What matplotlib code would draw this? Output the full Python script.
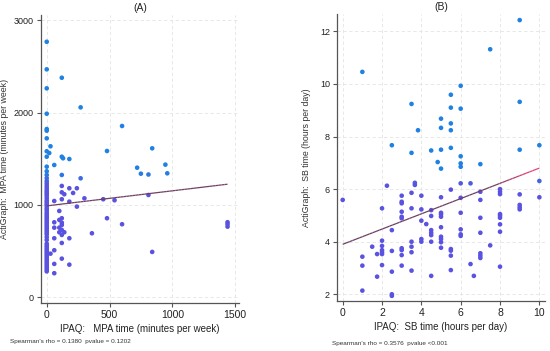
import numpy as np
import matplotlib
matplotlib.use("Agg")
import matplotlib.pyplot as plt
from matplotlib.collections import LineCollection
from matplotlib.colors import to_rgb

plt.rcParams['font.family'] = ['Liberation Sans', 'DejaVu Sans']

# ---------------- Panel A data ----------------
a_x0_y = [2769, 2470, 2264, 1989, 1823, 1805, 1722, 1582, 1523, 1415, 1365, 1325,
          1290, 1260, 1235, 1210, 1185, 1160, 1140, 1120, 1100, 1075, 1050, 1030,
          1010, 990, 965, 945, 920, 900, 880, 860, 840, 820, 800, 780, 760, 740,
          720, 700, 680, 650, 620, 580, 560, 540, 520, 500, 480, 460, 440, 420,
          400, 380, 360, 340, 320, 300, 280]
a_other_x = [30, 20, 120, 130, 180, 60, 120, 270, 120, 180, 240, 120, 140, 210, 300,
             60, 120, 180, 240, 100, 120, 100, 120, 120, 60, 60, 100, 120, 100, 140,
             120, 60, 180, 120, 60, 30, 120, 60, 180, 60,
             120, 270, 600, 480, 720, 750, 810, 840, 945, 960, 450, 540, 810, 480,
             600, 360, 840, 1440, 1440, 1440]
a_other_y = [1636, 1563, 1523, 1506, 1498, 1433, 1325, 1289, 1206, 1181, 1181, 1137,
             1116, 1130, 1072, 1043, 1062, 1036, 982, 935, 856, 838, 808, 783, 812,
             754, 754, 729, 704, 704, 675, 639, 639, 588, 509, 472, 418, 361, 353, 260,
             2379, 2058, 1856, 1585, 1404, 1339, 1330, 1614, 1437, 1343, 1062, 1051,
             1108, 856, 791, 693, 491, 813, 791, 765]
a_x = [0] * len(a_x0_y) + a_other_x
a_y = a_x0_y + a_other_y
a_fit_x = [0, 1440]
a_fit_y = [990, 1225]
a_xticks = [0, 500, 1000, 1500]
a_yticks = [0, 1000, 2000, 3000]

# ---------------- Panel B data ----------------
b_x = [1.0, 9, 7.5, 6, 5.5, 5.5, 6, 9, 3.5, 5, 5, 5.5, 5.5, 3.83, 2.5, 3.5, 4.5, 5,
       5.5, 9, 10, 6, 4.83, 6, 6, 7, 5,
       0, 2.25, 3.67, 3.67, 5.5, 6, 6.5, 7, 8, 8, 8, 10, 10, 9, 9, 9, 9,
       3, 3, 3, 3.5, 4, 2, 3.5, 4, 3, 3, 3, 4.5, 5, 5, 5, 5, 4.5, 4, 4.25, 2.5,
       4.5, 4.5, 4.5, 5, 5, 5, 5, 4, 4, 4.5, 6, 6, 6, 6, 6, 7, 7, 7, 8, 8, 8, 8,
       8, 7.5, 7, 7, 7, 6.5, 6.67, 8, 5.5, 5.5, 5.5, 5.5, 5, 4.5,
       2, 2, 2, 2, 2, 1.5, 1.75, 2.5, 1, 1, 2, 1.75, 2.5, 1, 2.5, 2.5, 3, 3, 3,
       3.5, 3.5, 3.5, 3, 3.5]
b_y = [10.46, 12.43, 11.32, 9.93, 9.59, 9.10, 9.06, 9.32, 9.24, 8.68, 8.33, 8.50,
       8.24, 8.24, 7.67, 7.38, 7.47, 7.50, 7.57, 7.50, 7.67, 7.25, 7.03, 6.98, 6.85,
       6.95, 6.78,
       5.59, 6.13, 6.24, 6.16, 5.98, 6.22, 6.22, 5.90, 6.0, 5.90, 5.81, 6.31, 5.69,
       5.80, 5.40, 5.31, 5.23,
       5.75, 5.52, 5.46, 5.86, 5.75, 5.27, 5.27, 5.23, 5.14, 4.95, 4.89, 5.20, 5.69,
       5.10, 5.04, 4.95, 4.98, 4.80, 4.67, 4.44, 4.44, 4.34, 4.25, 4.55, 4.19, 4.10,
       3.98, 4.10, 4.00, 4.00, 5.67, 5.10, 4.47, 4.28, 4.22, 5.59, 4.91, 4.34, 5.05,
       4.99, 4.91, 4.66, 4.38, 3.86, 3.56, 3.47, 3.38, 3.15, 2.70, 3.05, 3.72, 3.66,
       3.47, 2.92, 3.77, 2.70,
       4.04, 3.84, 3.68, 3.60, 3.53, 3.81, 3.53, 3.65, 3.43, 3.09, 3.11, 2.67, 2.86,
       2.14, 2.00, 1.94, 3.75, 3.68, 3.49, 4.00, 3.81, 3.60, 3.09, 2.90]
b_fit_x = [0, 10]
b_fit_y = [3.9, 6.8]
b_xticks = [0, 2, 4, 6, 8, 10]
b_yticks = [2, 4, 6, 8, 10, 12]

W, H = 550, 351
fig = plt.figure(figsize=(5.5, 3.51), dpi=100)
axA = fig.add_axes([0.074, 0.138, 0.3605, 0.819])
axB = fig.add_axes([0.6127, 0.1425, 0.3783, 0.8175])

BLUE_TOP = np.array(to_rgb('#1f82e2'))
VIOL_BOT = np.array(to_rgb('#5a52e0'))
LINE_TOP = np.array(to_rgb('#e8407a'))
LINE_BOT = np.array(to_rgb('#6e3f62'))


def mix(py, top, bot):
    # py = pixel row from top of the figure
    t = np.clip((py - 172) / 14.0, 0, 1)
    return (1 - t)[:, None] * top + t[:, None] * bot


def style(ax, xlim, ylim, xticks, yticks, title, xlabel, ylabel, ylab_x):
    ax.set_xlim(*xlim)
    ax.set_ylim(*ylim)
    ax.set_xticks(xticks)
    ax.set_yticks(yticks)
    for s in ['top', 'right']:
        ax.spines[s].set_visible(False)
    for s in ['left', 'bottom']:
        ax.spines[s].set_color('#555555')
        ax.spines[s].set_linewidth(0.9)
    ax.tick_params(axis='both', colors='#555555', labelcolor='#222222',
                   labelsize=6.5, length=3, width=0.8, pad=2)
    ax.tick_params(axis='x', labelsize=7.5)
    ax.grid(True, color='#e4e4e4', linestyle=(0, (4, 3)), linewidth=0.6)
    ax.set_axisbelow(True)
    ax.set_title(title, fontsize=7.5, pad=3, color='#222222')
    ax.set_xlabel(xlabel, fontsize=7, color='#222222', labelpad=3)
    ax.set_ylabel(ylabel, fontsize=6.3, color='#333333')
    ax.yaxis.set_label_coords(ylab_x, 0.5)


style(axA, (-48, 1531), (-58, 3058), a_xticks, a_yticks, '(A)',
      'IPAQ:   MPA time (minutes per week)', 'ActiGraph:  MPA time (minutes per week)', -0.16)
style(axB, (-0.29, 10.29), (1.745, 12.66), b_xticks, b_yticks, '(B)',
      'IPAQ:  SB time (hours per day)', 'ActiGraph:  SB time (hours per day)', -0.125)


def draw(ax, xs, ys, fx, fy):
    pts = np.column_stack([xs, ys]).astype(float)
    disp = ax.transData.transform(pts)
    py = H - disp[:, 1]
    cols = mix(py, BLUE_TOP, VIOL_BOT)
    ax.scatter(xs, ys, s=11, c=cols, edgecolors='none', zorder=3, clip_on=False)
    # fit line, coloured in segments
    n = 60
    lx = np.linspace(fx[0], fx[1], n)
    ly = np.interp(lx, fx, fy)
    segs = np.stack([np.column_stack([lx[:-1], ly[:-1]]),
                     np.column_stack([lx[1:], ly[1:]])], axis=1)
    mid = np.column_stack([(lx[:-1] + lx[1:]) / 2, (ly[:-1] + ly[1:]) / 2])
    lpy = H - ax.transData.transform(mid)[:, 1]
    lc = LineCollection(segs, colors=mix(lpy, LINE_TOP, LINE_BOT), linewidths=0.9, zorder=4)
    ax.add_collection(lc)


draw(axA, a_x, a_y, a_fit_x, a_fit_y)
draw(axB, b_x, b_y, b_fit_x, b_fit_y)

fig.text(10 / W, 1 - 341 / H, "Spearman's rho = 0.1380  pvalue = 0.1202",
         fontsize=4.6, color='#333333', va='center', ha='left')
fig.text(332 / W, 1 - 344 / H, "Spearman's rho = 0.3576  pvalue <0.001",
         fontsize=4.6, color='#333333', va='center', ha='left')

fig.savefig('out.png', dpi=100)
